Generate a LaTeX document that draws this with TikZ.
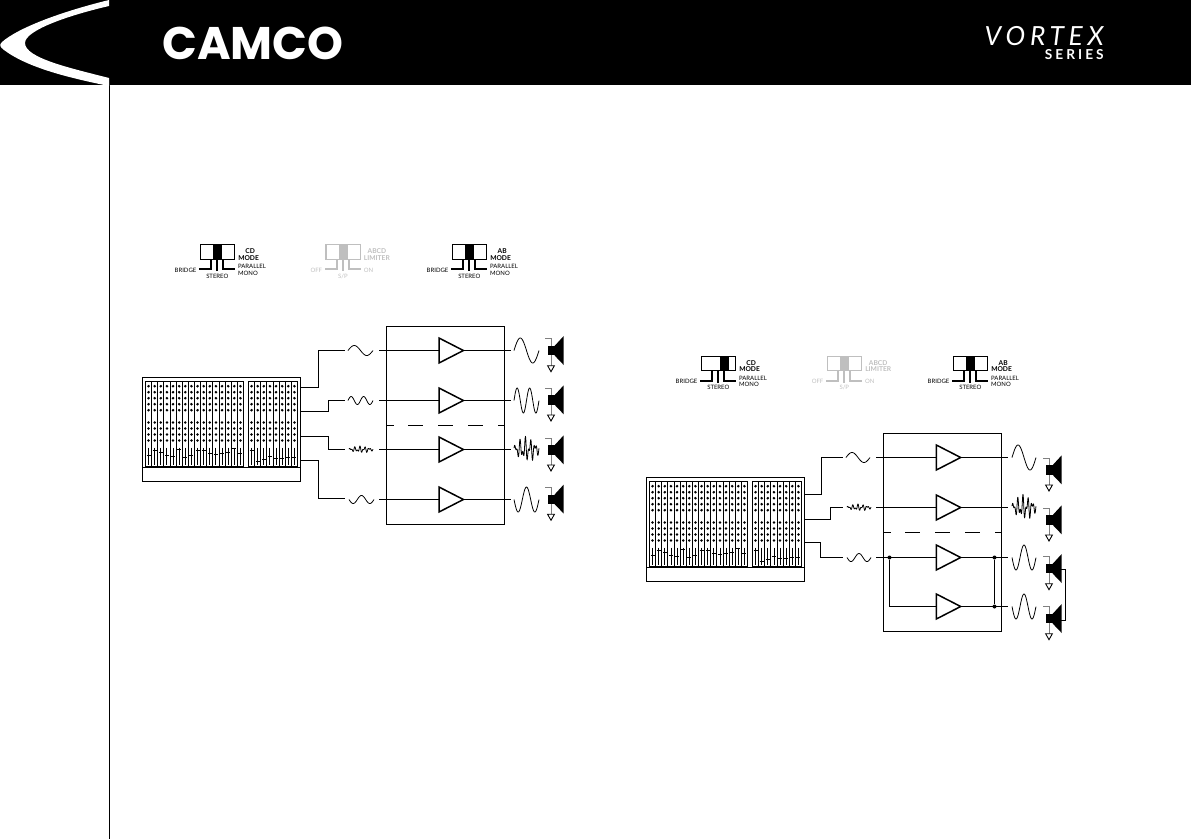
\documentclass[tikz,border=0pt]{standalone}
\usepackage{fontspec}
\setmainfont{Lato}
\newfontfamily\logofont{Poppins}
\newfontfamily\vortexfont[LetterSpace=18]{Lato}
\newfontfamily\seriesfont[LetterSpace=22]{Lato}
\usepackage{xcolor}
\usepackage{tikz}
\usetikzlibrary{shapes.geometric}

\tikzset{
  wire/.style={line width=0.55pt},
  amp/.style={draw, line width=0.85pt, isosceles triangle, isosceles triangle stretches,
    minimum width=0.5cm, minimum height=0.488cm, inner sep=0pt, outer sep=0pt, anchor=lower side},
  trace/.style={line width=0.45pt, line join=round},
  tinytext/.style={inner sep=0pt, font=\fontsize{3.4}{3.6}\selectfont},
  titletext/.style={inner sep=0pt, align=center, font=\fontsize{3.8}{3.9}\selectfont\bfseries},
  leg/.style={line width=1pt},
  junction/.style={circle, fill=black, inner sep=0pt, minimum size=0.08cm},
}

% wave: x, y, length, amplitude, cycles
\newcommand{\wavetrace}[5]{
  \draw[trace, domain=0:1, samples=70, smooth] plot ({#1+#3*\x}, {#2-(#4)*sin(#5*360*\x)});
}
% noisy wave: x, y, length, amplitude
\newcommand{\noisetrace}[4]{
  \draw[trace, domain=0:1, samples=90] plot ({#1+#3*\x},
    {#2-(#4)*(0.35+0.65*sin(180*\x))*(0.6*sin(5*360*\x)+0.45*sin(9*360*\x+40))});
}
% speaker: x, y
\newcommand{\speakerbox}[2]{
  \begin{scope}[shift={(#1,#2)}]
    \draw[line width=0.5pt, gray] (-3,-12) -- (3,-12) -- (3,15);
    \fill (0,-4.7) rectangle (6.5,4.7);
    \fill (6.5,-4.7) -- (15.7,-14.7) -- (15.7,14.3) -- (6.5,4.7) -- cycle;
    \draw[line width=0.5pt, fill=white] (-0.4,15) -- (6.4,15) -- (3,21) -- cycle;
  \end{scope}
}
% switch: name, x, y, colour, knob offset, left, middle, right, title
\newcommand{\modeswitch}[9]{
  \begin{scope}[shift={(#2,#3)}, #4]
    \draw[line width=0.6pt] (0,0) rectangle (34.4,14.6);
    \fill (#5,0.6) rectangle ({#5+8.7},14);
    \draw[leg] (11,14.6) -- (11,24.6) -- (-1,24.6);
    \draw[leg] (17,14.6) -- (17,26.5);
    \draw[leg] (23,14.6) -- (23,24.6) -- (35,24.6);
    \node[titletext, anchor=west, text=#4] (#1title) at (37.6,9.8) {#9};
    \node[tinytext, anchor=east, text=#4] (#1left) at (-3.6,25.3) {#6};
    \node[tinytext, text=#4] (#1mid) at (17,31.3) {#7};
    \node[tinytext, anchor=west, align=left, text=#4] (#1right) at (37.5,25.2) {#8};
  \end{scope}
}
% mixing desk: name, x, y
\newcommand{\mixerdesk}[3]{
  \begin{scope}[shift={(#2,#3)}]
    \node[draw, line width=0.6pt, anchor=north west, minimum width=3.16cm, minimum height=2.08cm,
      inner sep=0pt, outer sep=0pt] (#1) at (0,0) {};
    \draw[line width=0.6pt] (0,90) -- (158,90);
    \draw[line width=0.6pt] (3,4) rectangle (101,89);
    \draw[line width=0.6pt] (106,4) rectangle (155,89);
    \foreach \i in {1,...,15} \draw[line width=0.5pt] ({3+6.125*\i},4) -- ({3+6.125*\i},89);
    \foreach \i in {1,...,7} \draw[line width=0.5pt] ({106+6.125*\i},4) -- ({106+6.125*\i},89);
    \foreach \i/\t in {0/77.7,1/72.7,2/75,3/77.7,4/78.7,5/71.7,6/79.7,7/77.7,8/72.7,9/72.7,10/76,11/77,12/76,13/75,14/71,15/76,
        17/72.7,18/84,19/82,20/78.7,21/80.7,22/80.7,23/80,24/79.7} {
      \pgfmathsetmacro{\cx}{\i<16 ? 6.06+6.125*\i : 109.06+6.125*(\i-17)}
      \foreach \r in {8.7,14.7,20.7,26.7,32.7,45,51,57,63}
        \fill (\cx,\r) circle (1.4);
      \draw[line width=0.5pt] (\cx,70) -- (\cx,87);
      \draw[line width=0.5pt] ({\cx-2},\t) -- ({\cx+2},\t);
    }
  \end{scope}
}

\begin{document}
\begin{tikzpicture}[x=0.02cm, y=-0.02cm]
  \useasboundingbox (0,0) rectangle (1191,839);

  % Header
  \fill[black] (0,0) rectangle (1191,85);
  \draw[line width=0.55pt] (109.5,85) -- (109.5,839);
  \fill[white] (109,0) .. controls (60,12) and (18,28) .. (2,42)
    .. controls (-1,45) and (0,47) .. (4,50)
    .. controls (28,68) and (70,78) .. (109,86)
    -- (109,78) .. controls (70,68) and (25,58) .. (25,43)
    .. controls (25,30) and (70,15) .. (109,6) -- cycle;
  \node[inner sep=0pt, text=white, font=\logofont\fontsize{26}{26}\selectfont\bfseries] (logoname) at (253,43) {CAMCO};
  \node[inner sep=0pt, text=white, anchor=east, font=\vortexfont\fontsize{15}{15}\selectfont\itshape] (seriesname) at (1104,36) {VORTEX};
  \node[inner sep=0pt, text=white, anchor=east, font=\seriesfont\fontsize{7.8}{8}\selectfont\bfseries] (serieslabel) at (1104,55) {SERIES};

  % Switches left
  \modeswitch{swa}{200.3}{244.7}{black}{12.7}{BRIDGE}{STEREO}{PARALLEL\\MONO}{\ \ CD\\MODE}
  \modeswitch{swb}{326}{244.7}{black!25}{13}{OFF}{S/P}{ON}{ABCD\\LIMITER}
  \modeswitch{swc}{452.3}{244.7}{black}{12.7}{BRIDGE}{STEREO}{PARALLEL\\MONO}{\ \ AB\\MODE}

  % Switches right
  \modeswitch{swd}{701.3}{356.3}{black}{18.7}{BRIDGE}{STEREO}{PARALLEL\\MONO}{\ \ CD\\MODE}
  \modeswitch{swe}{827.3}{356.3}{black!25}{12.7}{OFF}{S/P}{ON}{ABCD\\LIMITER}
  \modeswitch{swf}{953.3}{356.3}{black}{12.7}{BRIDGE}{STEREO}{PARALLEL\\MONO}{\ \ AB\\MODE}

  % Stereo setup
  \mixerdesk{deskL}{142.5}{377.5}
  \node[draw, line width=0.6pt, anchor=north west, minimum width=2.36cm, minimum height=3.96cm,
    inner sep=0pt, outer sep=0pt] (rackL) at (386.5,326.5) {};
  \draw[line width=0.6pt, dash pattern=on 8.5pt off 8.5pt, dash phase=4.5pt] (rackL.west |- 0,425.5) -- (rackL.east |- 0,425.5);
  \foreach \row/\ya/\ys in {1/350.5/350.7, 2/400.5/400, 3/449.5/450, 4/499.5/499.3} {
    \coordinate (inL\row) at (379,\ya);
    \coordinate (outL\row) at (510.7,\ya);
    \node[amp] (ampL\row) at (439,\ya) {};
    \draw[wire] (inL\row) -- (ampL\row.lower side);
    \draw[wire] (ampL\row.apex) -- (outL\row);
    \speakerbox{548}{\ys}
  }
  \coordinate (feedLa) at (345,350.5);
  \coordinate (feedLb) at (345,400.5);
  \coordinate (feedLc) at (345,449.5);
  \coordinate (feedLd) at (345,498.5);
  \draw[wire] (300.5,387.5) -- (318.5,387.5) |- (feedLa);
  \draw[wire] (300.5,411.5) -- (328.5,411.5) |- (feedLb);
  \draw[wire] (300.5,436.5) -- (328.5,436.5) |- (feedLc);
  \draw[wire] (300.5,460.5) -- (318.5,460.5) |- (feedLd);
  \wavetrace{348}{350.5}{25}{5}{1}
  \wavetrace{348}{400.5}{25}{4}{2}
  \noisetrace{349}{449.5}{24}{3.5}
  \wavetrace{349}{499.5}{25}{4}{-1.5}
  \wavetrace{514}{350.5}{25}{12.5}{1}
  \wavetrace{514}{400.5}{25}{12.5}{2}
  \noisetrace{514}{449.5}{25}{13}
  \wavetrace{514}{499.5}{25}{12.5}{-1.5}

  % Bridged setup
  \mixerdesk{deskR}{646.5}{477.5}
  \node[draw, line width=0.6pt, anchor=north west, minimum width=2.36cm, minimum height=3.96cm,
    inner sep=0pt, outer sep=0pt] (rackR) at (883.5,433.5) {};
  \draw[line width=0.6pt, dash pattern=on 8.5pt off 8.5pt, dash phase=4.5pt] (rackR.west |- 0,532.5) -- (rackR.east |- 0,532.5);
  \foreach \row/\ya/\ys in {1/457.5/470, 2/507.5/520, 3/557.5/568.7, 4/606.5/618.7} {
    \node[amp] (ampR\row) at (936.3,\ya) {};
    \speakerbox{1046}{\ys}
  }
  \coordinate (inR1) at (876,457.5);
  \coordinate (inR2) at (876,507.5);
  \coordinate (inR3) at (876,557.5);
  \coordinate (outR1) at (1007.7,457.5);
  \coordinate (outR2) at (1007.7,507.5);
  \coordinate (outR3) at (1007.7,557.5);
  \coordinate (outR4) at (1007.7,606.5);
  \node[junction] (tieA) at (889.5,557.5) {};
  \node[junction] (tieB) at (994.5,557.5) {};
  \node[junction] (tieC) at (994.5,606.5) {};
  \draw[wire] (inR1) -- (ampR1.lower side);
  \draw[wire] (inR2) -- (ampR2.lower side);
  \draw[wire] (inR3) -- (ampR3.lower side);
  \draw[wire] (tieA) |- (ampR4.lower side);
  \draw[wire] (ampR1.apex) -- (outR1);
  \draw[wire] (ampR2.apex) -- (outR2);
  \draw[wire] (ampR3.apex) -- (outR3);
  \draw[wire] (ampR4.apex) -- (outR4);
  \draw[wire] (tieB) -- (tieC);
  \draw[wire] (1061,569.5) -- (1065.5,569.5) -- (1065.5,620.5) -- (1061,620.5);
  \coordinate (feedRa) at (843,457.5);
  \coordinate (feedRb) at (843,507.5);
  \coordinate (feedRc) at (843,557.5);
  \draw[wire] (804.5,494.5) -- (821.5,494.5) |- (feedRa);
  \draw[wire] (804.5,519.5) -- (830.5,519.5) |- (feedRb);
  \draw[wire] (804.5,542.5) -- (820.5,542.5) |- (feedRc);
  \wavetrace{846}{457.5}{24}{5}{1}
  \noisetrace{847}{507.5}{24}{3.5}
  \wavetrace{847}{557.5}{24}{4}{-1.5}
  \wavetrace{1012}{457.5}{24}{12.5}{1}
  \noisetrace{1012}{507.5}{24}{13}
  \wavetrace{1012}{557.5}{24}{12.5}{-1.5}
  \wavetrace{1012}{606.5}{24}{12.5}{-1.5}
\end{tikzpicture}
\end{document}
